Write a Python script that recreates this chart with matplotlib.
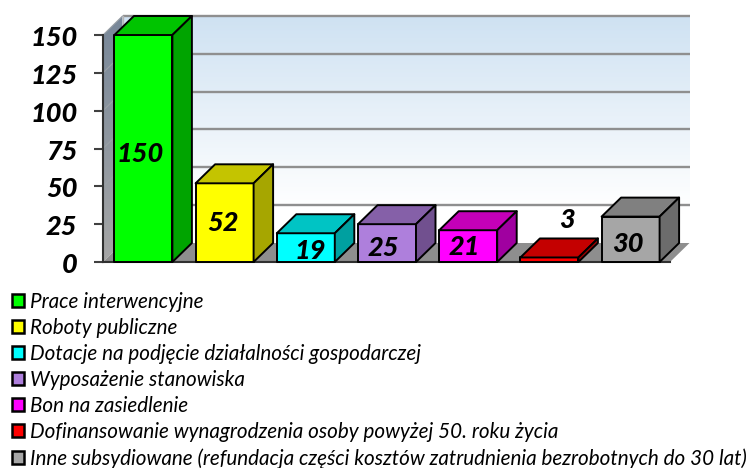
import numpy as np
import matplotlib
matplotlib.use("Agg")
import matplotlib.pyplot as plt
from matplotlib.patches import Polygon, Patch
from matplotlib.transforms import ScaledTranslation

categories = ["Prace interwencyjne", "Roboty publiczne",
              "Dotacje na podjęcie działalności gospodarczej",
              "Wyposażenie stanowiska", "Bon na zasiedlenie",
              "Dofinansowanie wynagrodzenia osoby powyżej 50. roku życia",
              "Inne subsydiowane (refundacja części kosztów zatrudnienia bezrobotnych do 30 lat)"]
values = [150, 52, 19, 25, 21, 3, 30]
y_ticks = [0, 25, 50, 75, 100, 125, 150]
front_colors = ["#00ff00", "#ffff00", "#00ffff", "#ae7fdc", "#ff00ff", "#ff0000", "#a6a6a6"]
top_colors = ["#00c400", "#c4c400", "#00c4c4", "#8560a8", "#c400b8", "#c40000", "#808080"]
side_colors = ["#00a400", "#a6a600", "#00a0a0", "#71508f", "#a000a0", "#a00000", "#6c6c6c"]
label_offsets_px = [(-3, -6), (-2, 0), (4, -3), (-4, -5), (-4, -1), (18, 40), (-3, -5)]

W, H = 749, 468
fig = plt.figure(figsize=(W / 100, H / 100), dpi=100)
L, R, B, T = 103, 670, 262, 35
ax = fig.add_axes([L / W, 1 - B / H, (R - L) / W, (B - T) / H])
px_x = 81.2            # pixels per category
px_y = (B - T) / 150   # pixels per value unit
x0 = (L - 143.4) / px_x
x1 = (R - 143.4) / px_x
ddx, ddy = 19.5 / px_x, 19 / px_y   # 3D depth in data units
half = 29 / px_x
n = len(values)
top = y_ticks[-1]

# back wall
grad = np.linspace(0, 1, 256)[:, None]
c_top = np.array([0.81, 0.885, 0.95])
c_bot = np.array([1.0, 1.0, 1.0])
g = np.clip(grad / 0.84, 0, 1)
img = c_top[None, :] * (1 - g) + c_bot[None, :] * g
ax.imshow(img[:, None, :], extent=(x0 + ddx, x1 + ddx, ddy, top + ddy),
          aspect="auto", origin="upper", zorder=0, clip_on=False)

# left wall with vertical gradient
c_top = np.array([0.47, 0.53, 0.60])
c_bot = np.array([0.65, 0.65, 0.65])
img2 = c_top[None, :] * (1 - grad) + c_bot[None, :] * grad
im = ax.imshow(img2[:, None, :], extent=(x0, x0 + ddx, 0, top + ddy),
               aspect="auto", origin="upper", zorder=1)
wall = Polygon([(x0, 0), (x0, top), (x0 + ddx, top + ddy), (x0 + ddx, ddy)],
               closed=True, transform=ax.transData, fc="none", ec="none")
ax.add_patch(wall)
wall.set_clip_on(False)
im.set_clip_box(fig.bbox)
im.set_clip_path(wall)

# floor
ax.add_patch(Polygon([(x0, 0), (x1, 0), (x1 + ddx, ddy), (x0 + ddx, ddy)], closed=True,
                     fc="#8e8e8e", ec="none", zorder=1, clip_on=False))

# gridlines
for t in y_ticks[1:]:
    ax.plot([x0 + ddx, x1 + ddx], [t + ddy, t + ddy], color="#8f8f8f", lw=1.7, zorder=1.5,
            clip_on=False, solid_capstyle="butt")
    ax.plot([x0, x0 + ddx], [t, t + ddy], color="#9aa0a6", lw=0.8, zorder=1.5, clip_on=False)
ax.plot([x0 + ddx, x0 + ddx], [ddy, top + ddy], color="#b5b5b5", lw=1, zorder=1.5, clip_on=False)

# bars
for i, v in enumerate(values):
    l, r = i - half, i + half
    kw = dict(closed=True, ec="black", lw=1.4, zorder=3 + i * 0.01, clip_on=False, joinstyle="round")
    ax.add_patch(Polygon([(l, 0), (r, 0), (r, v), (l, v)], fc=front_colors[i], **kw))
    ax.add_patch(Polygon([(l, v), (r, v), (r + ddx, v + ddy), (l + ddx, v + ddy)], fc=top_colors[i], **kw))
    ax.add_patch(Polygon([(r, 0), (r + ddx, ddy), (r + ddx, v + ddy), (r, v)], fc=side_colors[i], **kw))
    dx, dy = label_offsets_px[i]
    ax.annotate(str(v), (i, v / 2), xytext=(dx * 0.72, dy * 0.72), textcoords="offset points",
                ha="center", va="center", family="Lato", style="italic", weight="black",
                fontsize=19.5, color="black", zorder=5)

ax.set_xlim(x0, x1)
ax.set_ylim(0, top)
ax.set_xticks([])
ax.set_yticks(y_ticks)
ax.tick_params(axis="y", length=6.5, width=1.5, color="#404040", pad=12)
down = ScaledTranslation(0, -1 / 100, fig.dpi_scale_trans)
for lab in ax.get_yticklabels():
    lab.set(family="Lato", style="italic", weight="black", fontsize=19.5)
    lab.set_transform(lab.get_transform() + down)
ax.patch.set_visible(False)
for s in ["top", "right"]:
    ax.spines[s].set_visible(False)
for s in ["left", "bottom"]:
    ax.spines[s].set(color="#303030", linewidth=1.5, zorder=2.5)

handles = [Patch(fc=c, ec="black", lw=1.8) for c in front_colors]
fig.legend(handles, categories, loc="upper left", bbox_to_anchor=(12 / W, 1 - 292 / H),
           bbox_transform=fig.transFigure, frameon=False, borderpad=0, borderaxespad=0,
           handlelength=0.58, handleheight=0.58, handletextpad=0.3, labelspacing=0.29,
           prop=dict(family="Lato", style="italic", size=14.9))

fig.savefig("out.png", dpi=100)
